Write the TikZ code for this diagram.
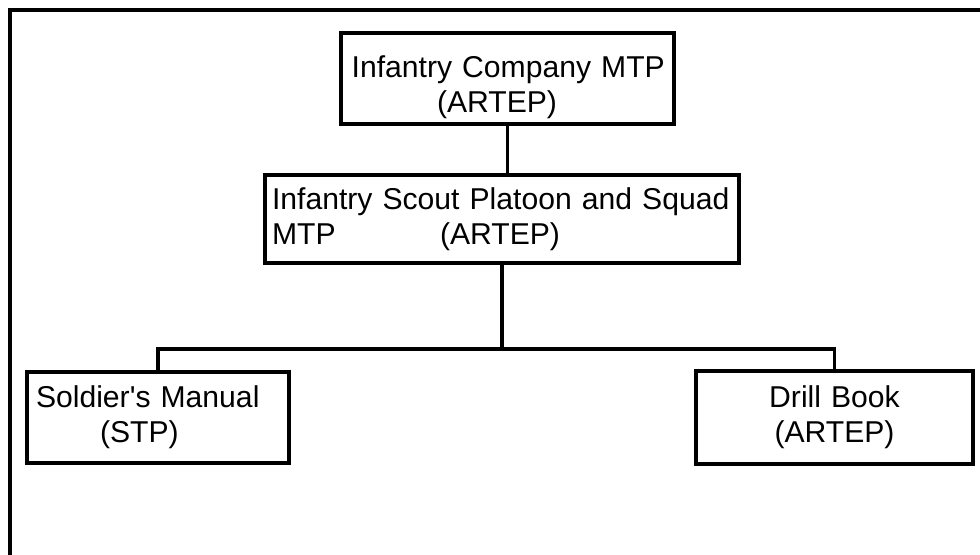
\documentclass[tikz,border=0pt]{standalone}
\usepackage{fontspec}
\setmainfont{Liberation Sans}
\usepackage{xcolor}

\begin{document}
\begin{tikzpicture}[
    x=0.75pt, y=-0.75pt,
    frame/.style={draw=black, line width=2.7pt},
    box/.style={draw=black, line width=2.5pt, rectangle, inner sep=0pt,
      align=left, font=\fontsize{22.6}{26.25}\selectfont},
    link/.style={draw=black, line width=2.5pt},
  ]
  \useasboundingbox (0,0) rectangle (980,555);
  \fill[white] (0,0) rectangle (980,555);

  % ---- outer frame, only top and left edges fall inside the page
  \draw[frame] (10,560) -- (10,10) -- (985,10);

  % ---- boxes
  \node[box, text width=249.75pt, minimum height=68.25pt] (company) at (507.5,78.5)
    {\rule{0pt}{29pt}\hspace*{8pt}Infantry Company MTP\\\hspace*{72pt}(ARTEP)};
  \node[box, text width=355.5pt, minimum height=66pt] (platoon) at (502,219)
    {\hspace*{5.25pt}Infantry Scout Platoon and Squad\\
     \hspace*{5.25pt}\makebox[126pt][l]{MTP}(ARTEP)};
  \node[box, text width=196.5pt, minimum height=68.25pt] (manual) at (158,417.5)
    {\hspace*{6.75pt}Soldier\textquotesingle s Manual\\\hspace*{54.75pt}(STP)};
  \node[box, text width=207.75pt, minimum height=69.75pt, align=center] (drill) at (834.5,417.5)
    {Drill Book\\(ARTEP)};

  % ---- connectors
  \coordinate (bus) at (502,349);
  \draw[link] (company.south) -- (company.south |- platoon.north);
  \draw[link] (platoon.south) -- (bus);
  \draw[link] (manual.north) |- (bus) -| (drill.north);
\end{tikzpicture}
\end{document}
